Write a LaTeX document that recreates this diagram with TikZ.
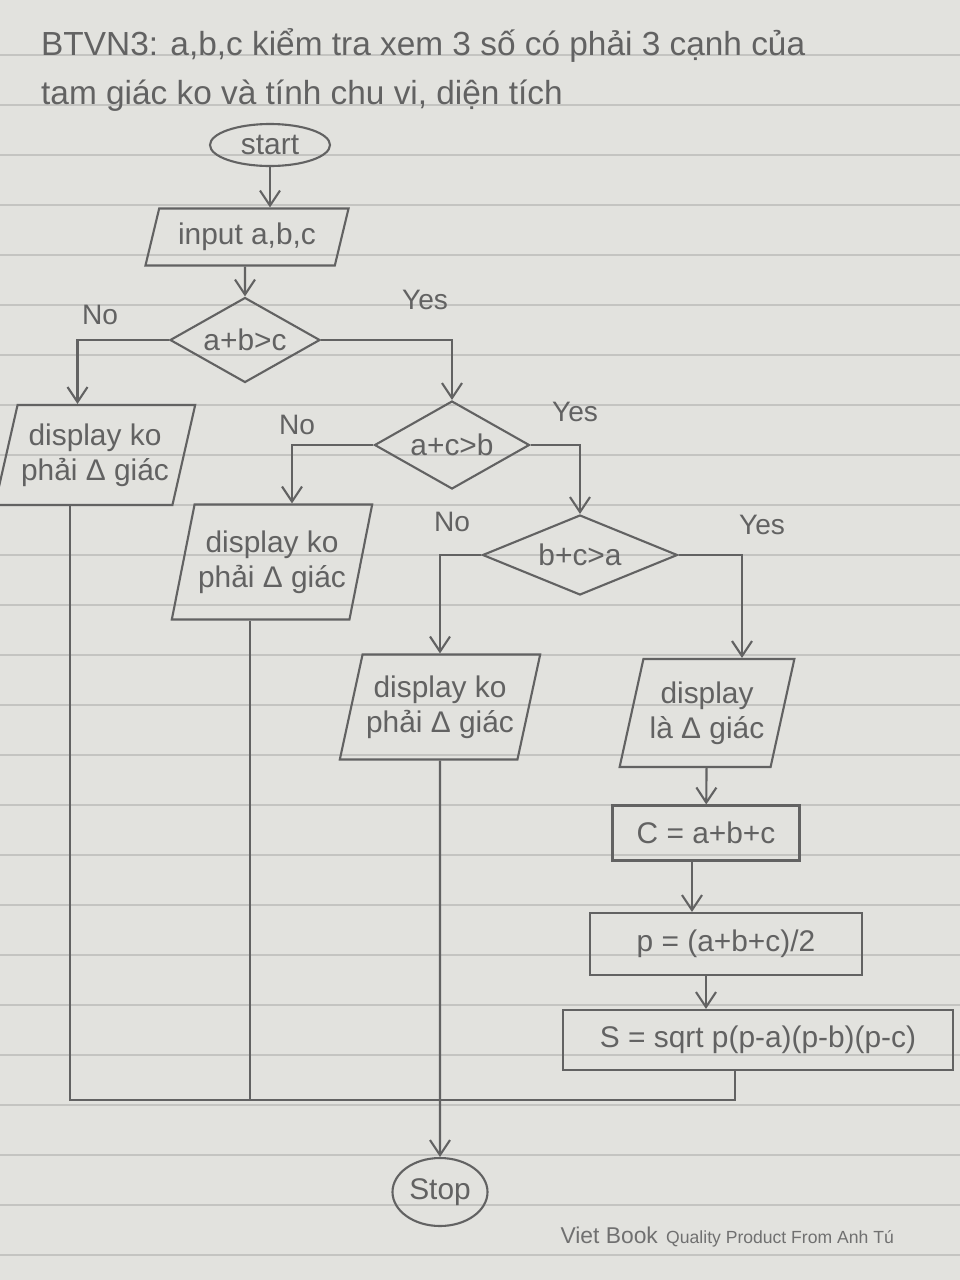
\documentclass[tikz,border=0pt]{standalone}
\usepackage{fontspec}
\setmainfont{Liberation Sans}
\usetikzlibrary{shapes.geometric,arrows.meta}

\definecolor{paper}{RGB}{226,226,222}
\definecolor{ink}{RGB}{98,98,98}
\definecolor{rule}{RGB}{196,196,193}
\definecolor{printed}{RGB}{112,112,112}

\begin{document}
\begin{tikzpicture}[x=0.2mm,y=-0.2mm,
    every node/.style={text=ink,font=\fontsize{17}{20}\selectfont},
    link/.style={draw=ink,line width=1.2pt},
    arr/.style={link,-{Straight Barb[length=3mm,width=4mm]}},
    term/.style={ellipse,draw=ink,line width=1.2pt,inner sep=1pt},
    io/.style={trapezium,trapezium left angle=72,trapezium right angle=108,
        trapezium stretches=true,draw=ink,line width=1.2pt,align=center,inner sep=2pt},
    test/.style={diamond,draw=ink,line width=1.2pt,aspect=1.8,inner sep=1pt},
    procbox/.style={rectangle,draw=ink,line width=1.2pt,minimum height=11mm,inner sep=4pt},
    tag/.style={font=\fontsize{16}{19}\selectfont}]
    % paper
    \fill[paper] (0,0) rectangle (960,1280);
    \useasboundingbox (0,0) rectangle (960,1280);
    \foreach \y in {55,105,...,1255}
        \draw[rule,line width=0.8pt] (0,\y) -- (960,\y);

    \node[anchor=north west,align=left,font=\fontsize{19}{28}\selectfont] (title) at (35,22)
        {BTVN3: a,b,c kiểm tra xem 3 số có phải 3 cạnh của\\tam giác ko và tính chu vi, diện tích};

    \node[term,minimum width=24mm,minimum height=8.4mm] (start) at (270,145) {start};
    \node[io,minimum width=41mm,minimum height=11.4mm] (input) at (247,237) {input a,b,c};

    \node[test,minimum width=30mm,minimum height=17mm] (d1) at (245,340) {a+b>c};
    \node[test,minimum width=31mm,minimum height=17.6mm] (d2) at (452,445) {a+c>b};
    \node[test,minimum width=39mm,minimum height=16mm] (d3) at (580,555) {b+c>a};

    \node[io,minimum width=35mm,minimum height=20mm] (no1) at (95,455) {display ko\\phải Δ giác};
    \node[io,minimum width=35mm,minimum height=23mm] (no2) at (272,562) {display ko\\phải Δ giác};
    \node[io,minimum width=38mm,minimum height=21mm] (no3) at (440,707) {display ko\\phải Δ giác};
    \node[io,minimum width=35mm,minimum height=21.6mm] (yes3) at (707,713) {display\\là Δ giác};

    \node[procbox,minimum width=37.4mm] (perim) at (706,833) {C = a+b+c};
    \node[procbox,minimum width=54.4mm,minimum height=12.4mm] (half) at (726,944) {p = (a+b+c)/2};
    \node[procbox,minimum width=78mm,minimum height=12mm] (area) at (758,1040) {S = sqrt p(p-a)(p-b)(p-c)};

    \node[term,minimum width=19mm,minimum height=13.6mm] (stop) at (440,1192) {Stop};

    \node[tag] (no1lbl) at (100,315) {No};
    \node[tag] (yes1lbl) at (425,300) {Yes};
    \node[tag] (no2lbl) at (297,425) {No};
    \node[tag] (yes2lbl) at (575,412) {Yes};
    \node[tag] (no3lbl) at (452,522) {No};
    \node[tag] (yes3lbl) at (762,525) {Yes};

    \node[anchor=east,text=printed] (brand) at (900,1237)
        {{\fontsize{13}{15}\selectfont Viet Book} {\fontsize{10}{12}\selectfont Quality Product From Anh Tú}};

    % flow
    \draw[arr] (start) -- (start |- input.north);
    \draw[arr] ([xshift=-0.4mm]input.south) -- (d1);
    \draw[arr] (d1.west) -| ([xshift=-3.5mm]no1.north);
    \draw[arr] (d1.east) -| (d2.north);
    \draw[arr] (d2.west) -| ([xshift=4mm]no2.north);
    \draw[arr] (d2.east) -| (d3.north);
    \draw[arr] (d3.west) -| (no3.north);
    \draw[arr] (d3.east) -| ([xshift=7mm]yes3.north);
    \draw[arr] (yes3) -- (perim);
    \draw[arr] ([xshift=-2.8mm]perim.south) -- ([xshift=-2.8mm]perim.south |- half.north);
    \draw[arr] ([xshift=-4mm]half.south) -- ([xshift=-4mm]half.south |- area.north);

    % join
    \coordinate (j) at (0,1100);
    \draw[link] ([xshift=-5mm]no1.south) -- ([xshift=-5mm]no1.south |- j)
        -- ([xshift=-4.6mm]area.south |- j) -- ([xshift=-4.6mm]area.south);
    \draw[link] ([xshift=-4.4mm]no2.south) -- ([xshift=-4.4mm]no2.south |- j);
    \draw[arr] (no3.south) -- (stop);
\end{tikzpicture}
\end{document}
